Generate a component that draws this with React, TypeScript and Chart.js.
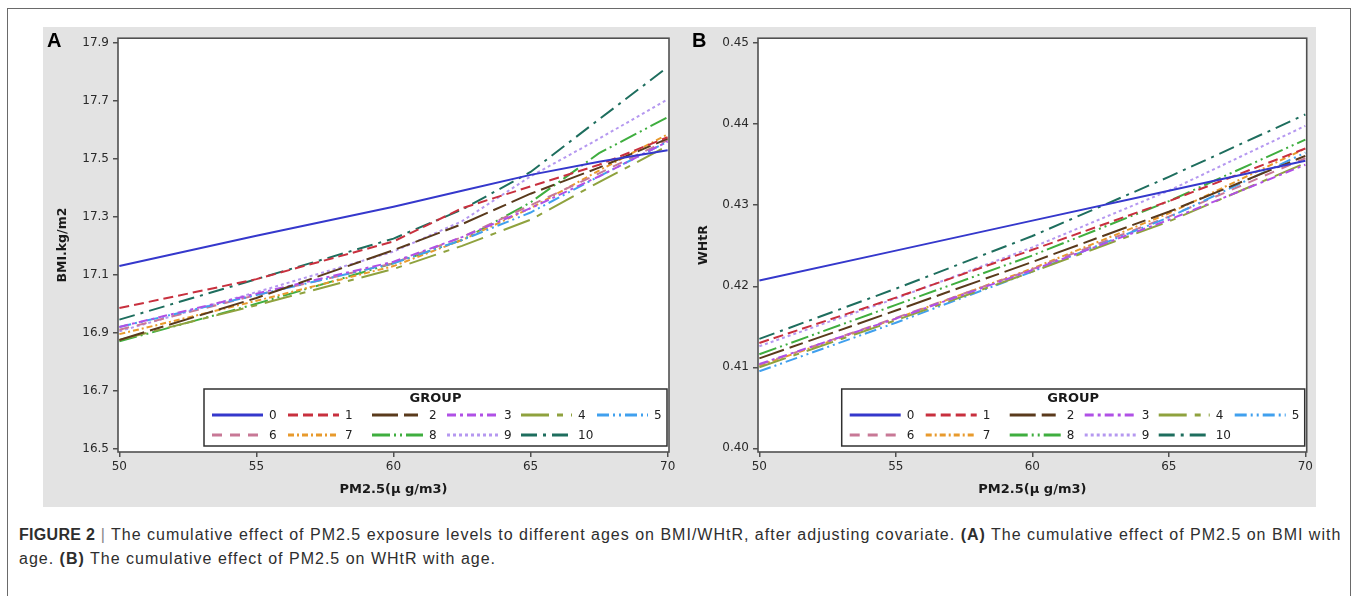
import React, { useEffect, useRef } from 'react';
import { Chart, registerables } from 'chart.js';

Chart.register(...registerables);

// ---------- DATA ----------
const GROUPS = ['0', '1', '2', '3', '4', '5', '6', '7', '8', '9', '10'];

const X_TICKS = [50, 55, 60, 65, 70];
const BMI_TICKS = [16.5, 16.7, 16.9, 17.1, 17.3, 17.5, 17.7, 17.9];
const WHTR_TICKS = [0.4, 0.41, 0.42, 0.43, 0.44, 0.45];

// Panel A: BMI (kg/m2) vs PM2.5
const PM_A = [50, 55, 60, 62.5, 65, 67.5, 70];
const BMI_G0 = [17.13, 17.235, 17.335, 17.39, 17.445, 17.49, 17.53];
const BMI_G1 = [16.985, 17.085, 17.215, 17.33, 17.405, 17.48, 17.575];
const BMI_G2 = [16.875, 17.02, 17.185, 17.275, 17.38, 17.47, 17.57];
const BMI_G3 = [16.92, 17.035, 17.145, 17.23, 17.33, 17.44, 17.56];
const BMI_G4 = [16.875, 16.995, 17.12, 17.2, 17.29, 17.42, 17.545];
const BMI_G5 = [16.92, 17.03, 17.14, 17.22, 17.315, 17.44, 17.56];
const BMI_G6 = [16.91, 17.03, 17.14, 17.23, 17.34, 17.45, 17.565];
const BMI_G7 = [16.895, 17.01, 17.13, 17.22, 17.33, 17.46, 17.585];
const BMI_G8 = [16.87, 17.0, 17.14, 17.22, 17.35, 17.52, 17.644];
const BMI_G9 = [16.905, 17.04, 17.18, 17.285, 17.44, 17.57, 17.706];
const BMI_G10 = [16.945, 17.085, 17.225, 17.325, 17.455, 17.637, 17.817];

// Panel B: WHtR vs PM2.5
const PM_B = [50, 55, 60, 65, 70];
const WHTR_G0 = [0.4207, 0.4244, 0.4281, 0.4318, 0.4355];
const WHTR_G1 = [0.413, 0.4186, 0.4245, 0.4305, 0.437];
const WHTR_G2 = [0.4111, 0.417, 0.423, 0.4292, 0.4361];
const WHTR_G3 = [0.4104, 0.416, 0.422, 0.4282, 0.435];
const WHTR_G4 = [0.41, 0.4158, 0.4218, 0.428, 0.4352];
const WHTR_G5 = [0.4095, 0.4155, 0.4218, 0.4285, 0.4365];
const WHTR_G6 = [0.4103, 0.4161, 0.4221, 0.4286, 0.4358];
const WHTR_G7 = [0.4102, 0.416, 0.4222, 0.429, 0.437];
const WHTR_G8 = [0.4116, 0.4177, 0.4238, 0.4305, 0.4381];
const WHTR_G9 = [0.4126, 0.4185, 0.4248, 0.4318, 0.4398];
const WHTR_G10 = [0.4135, 0.4197, 0.4262, 0.4335, 0.4412];

const BMI_SERIES = [BMI_G0, BMI_G1, BMI_G2, BMI_G3, BMI_G4, BMI_G5, BMI_G6, BMI_G7, BMI_G8, BMI_G9, BMI_G10];
const WHTR_SERIES = [WHTR_G0, WHTR_G1, WHTR_G2, WHTR_G3, WHTR_G4, WHTR_G5, WHTR_G6, WHTR_G7, WHTR_G8, WHTR_G9, WHTR_G10];

// ---------- STYLES ----------
const COLORS = ['#3538cc', '#c8303e', '#5a3a1c', '#b050e6', '#8fa23e', '#40a0ee', '#c87896', '#e89a2c', '#3fae3f', '#b598f0', '#1e6e5e'];
const DASHES: number[][] = [
  [],
  [10, 5],
  [26, 6, 14, 6],
  [9, 4, 3, 4],
  [28, 8, 6, 8],
  [12, 4, 2, 4, 2, 4],
  [10, 8],
  [6, 3, 2, 3],
  [18, 4, 2, 4, 2, 4],
  [3, 3],
  [16, 6, 3, 6],
];
const LEGEND_COLS = [8, 84, 168, 243, 317, 393];
const TICK_FONT = { family: 'DejaVu Sans', size: 12 };
const AXIS_COLOR = '#505050';

const framePlugin = {
  id: 'frame',
  beforeDatasetsDraw(chart: any) {
    const { ctx, chartArea: a } = chart;
    ctx.save();
    ctx.fillStyle = '#ffffff';
    ctx.fillRect(a.left, a.top, a.right - a.left, a.bottom - a.top);
    ctx.restore();
  },
  afterDatasetsDraw(chart: any) {
    const { ctx, chartArea: a } = chart;
    ctx.save();
    ctx.strokeStyle = AXIS_COLOR;
    ctx.lineWidth = 1.6;
    ctx.strokeRect(a.left, a.top, a.right - a.left, a.bottom - a.top);
    ctx.restore();
  },
};

const legendPlugin = {
  id: 'groupLegend',
  afterDraw(chart: any) {
    const { ctx, chartArea: a } = chart;
    const w = 463;
    const h = 57;
    const right = a.right - 2;
    const bottom = a.bottom - 6;
    const left = right - w;
    const top = bottom - h;
    ctx.save();
    ctx.fillStyle = '#ffffff';
    ctx.fillRect(left, top, w, h);
    ctx.strokeStyle = '#303030';
    ctx.lineWidth = 1.5;
    ctx.strokeRect(left, top, w, h);
    ctx.fillStyle = '#1a1a1a';
    ctx.font = 'bold 13px "DejaVu Sans"';
    ctx.textAlign = 'center';
    ctx.textBaseline = 'middle';
    ctx.fillText('GROUP', left + w / 2, top + 10);
    ctx.font = '12px "DejaVu Sans"';
    ctx.textAlign = 'left';
    chart.data.datasets.forEach((ds: any, i: number) => {
      const row = i < 6 ? 0 : 1;
      const col = i < 6 ? i : i - 6;
      const sx = left + LEGEND_COLS[col];
      const y = top + (row === 0 ? 26 : 46);
      ctx.strokeStyle = ds.borderColor;
      ctx.lineWidth = 3;
      ctx.setLineDash(ds.borderDash || []);
      ctx.beginPath();
      ctx.moveTo(sx, y);
      ctx.lineTo(sx + 51, y);
      ctx.stroke();
      ctx.setLineDash([]);
      ctx.fillStyle = '#222';
      ctx.fillText(ds.label, sx + 57, y + 1);
    });
    ctx.restore();
  },
};

function makeConfig(xs: number[], series: number[][], yTicks: number[], yMin: number, yMax: number, yTitle: string, yWidth: number, padRight: number, yTitlePad: number, decimals: number): any {
  const datasets = series.map((vals, i) => ({
    label: GROUPS[i],
    data: xs.map((x, j) => ({ x, y: vals[j] })),
    borderColor: COLORS[i],
    borderDash: DASHES[i],
    borderWidth: 2,
    pointRadius: 0,
    fill: false,
    tension: 0,
  }));
  return {
    type: 'line',
    data: { datasets },
    options: {
      animation: false,
      responsive: false,
      maintainAspectRatio: false,
      events: [],
      layout: { padding: { top: 11, right: padRight, left: 0, bottom: 0 } },
      plugins: { legend: { display: false }, tooltip: { enabled: false } },
      scales: {
        x: {
          type: 'linear',
          min: 49.95,
          max: 70.05,
          afterBuildTicks: (s: any) => { s.ticks = X_TICKS.map((v) => ({ value: v })); },
          afterFit: (s: any) => { s.height = 55; },
          border: { display: false },
          grid: { display: true, drawOnChartArea: false, drawTicks: true, tickLength: 5, tickColor: AXIS_COLOR, lineWidth: 1.5 },
          ticks: { font: TICK_FONT, color: '#2a2a2a', padding: 3, autoSkip: false, maxRotation: 0, callback: (v: any) => String(v) },
          title: { display: true, text: 'PM2.5(μ g/m3)', color: '#1a1a1a', font: { family: 'DejaVu Sans', size: 13, weight: 'bold' }, padding: { top: 0, bottom: 10 } },
        },
        y: {
          type: 'linear',
          min: yMin,
          max: yMax,
          afterBuildTicks: (s: any) => { s.ticks = yTicks.map((v) => ({ value: v })); },
          afterFit: (s: any) => { s.width = yWidth; },
          border: { display: false },
          grid: { display: true, drawOnChartArea: false, drawTicks: true, tickLength: 5, tickColor: AXIS_COLOR, lineWidth: 1.5 },
          ticks: { font: TICK_FONT, color: '#2a2a2a', padding: 4, autoSkip: false, callback: (v: any) => Number(v).toFixed(decimals) },
          title: { display: true, text: yTitle, color: '#1a1a1a', font: { family: 'DejaVu Sans', size: 12.5, weight: 'bold' }, padding: { top: yTitlePad, bottom: 0 } },
        },
      },
    },
    plugins: [framePlugin, legendPlugin],
  };
}

function Panel({ config, left, width }: { config: any; left: number; width: number }) {
  const ref = useRef<HTMLCanvasElement>(null);
  useEffect(() => {
    const chart = new Chart(ref.current as HTMLCanvasElement, config);
    return () => chart.destroy();
  }, [config]);
  return (
    <canvas
      ref={ref}
      width={width}
      height={480}
      style={{ position: 'absolute', left, top: 27, width, height: 480 }}
    />
  );
}

const CONFIG_A = makeConfig(PM_A, BMI_SERIES, BMI_TICKS, 16.488, 17.917, 'BMI.kg/m2', 75, 19, 12, 1);
const CONFIG_B = makeConfig(PM_B, WHTR_SERIES, WHTR_TICKS, 0.39954, 0.45062, 'WHtR', 70, 9, 8, 2);

export default function App() {
  const letter: React.CSSProperties = {
    position: 'absolute',
    top: 30,
    fontFamily: '"Liberation Sans", Arial, sans-serif',
    fontWeight: 'bold',
    fontSize: 20,
    lineHeight: '20px',
    color: '#000',
  };
  return (
    <div style={{ position: 'absolute', left: 0, top: 0, width: 1357, height: 596, overflow: 'hidden', background: '#fff' }}>
      <div style={{ position: 'absolute', left: 7, top: 8, width: 1344, height: 620, border: '1.5px solid #6a6a6a', boxSizing: 'border-box' }} />
      <div style={{ position: 'absolute', left: 43, top: 27, width: 1273, height: 480, background: '#e3e3e3' }} />
      <Panel config={CONFIG_A} left={43} width={645} />
      <Panel config={CONFIG_B} left={688} width={628} />
      <div style={{ ...letter, left: 47 }}>A</div>
      <div style={{ ...letter, left: 692 }}>B</div>
      <div
        style={{
          position: 'absolute',
          left: 19,
          top: 523,
          width: 1330,
          fontFamily: '"Liberation Sans", Arial, sans-serif',
          fontSize: 16,
          letterSpacing: '1px',
          lineHeight: '24px',
          color: '#2e2e2e',
          whiteSpace: 'nowrap',
        }}
      >
        <b style={{ letterSpacing: '0.3px' }}>FIGURE 2</b> <span style={{ color: '#888' }}>|</span> The cumulative effect of PM2.5 exposure levels to different ages on BMI/WHtR, after adjusting covariate. <b>(A)</b> The cumulative effect of PM2.5 on BMI with
        <br />
        age. <b>(B)</b> The cumulative effect of PM2.5 on WHtR with age.
      </div>
    </div>
  );
}
